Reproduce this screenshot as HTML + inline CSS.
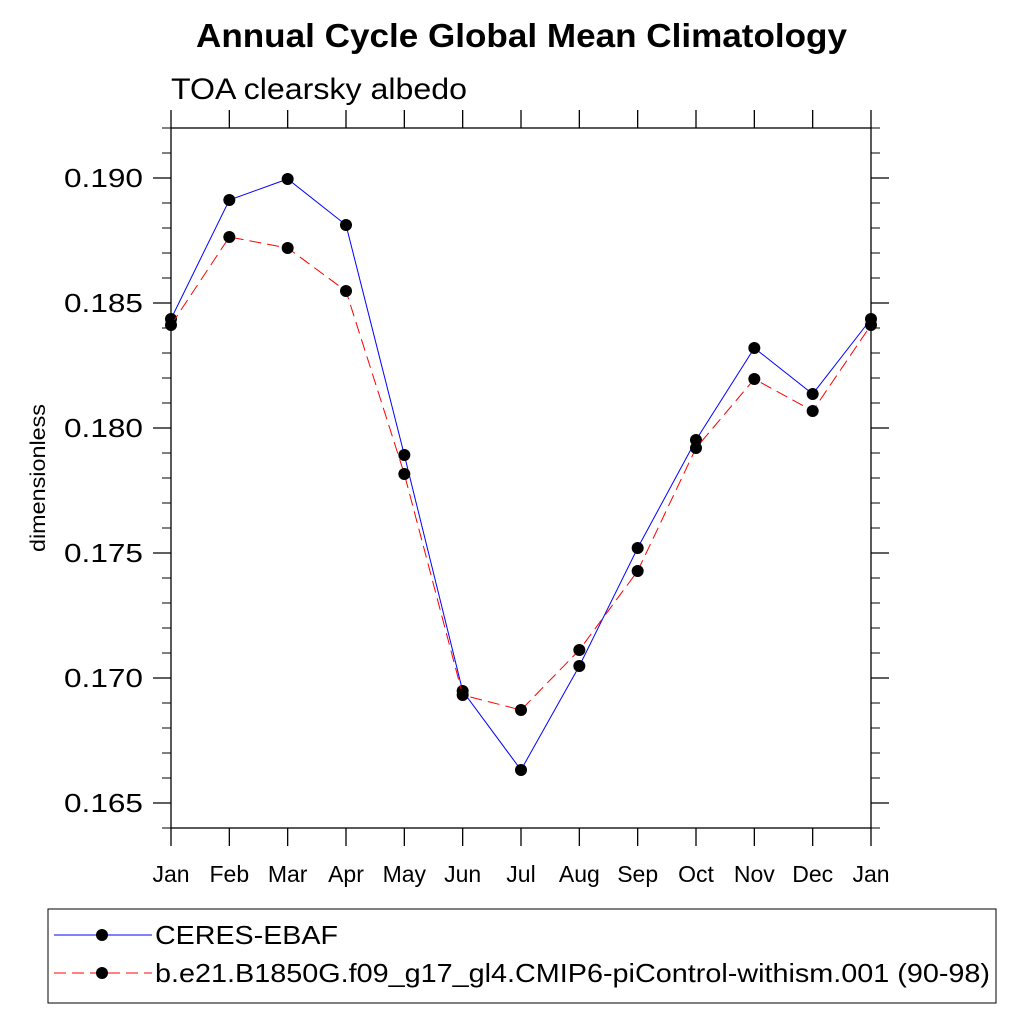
<!DOCTYPE html>
<html><head><meta charset="utf-8"><style>body{margin:0;background:#fff}svg{display:block;font-family:"Liberation Sans",sans-serif}</style></head>
<body>
<svg id="c" width="1024" height="1024" viewBox="0 0 1024 1024">
<text x="196" y="47" font-size="33" font-weight="bold" textLength="651" lengthAdjust="spacingAndGlyphs">Annual Cycle Global Mean Climatology</text>
<text x="171" y="99" font-size="30" textLength="296" lengthAdjust="spacingAndGlyphs">TOA clearsky albedo</text>
<text transform="translate(45,478) rotate(-90)" text-anchor="middle" font-size="21" textLength="148" lengthAdjust="spacingAndGlyphs">dimensionless</text>
<g id="axes"></g><g id="series"></g>
<rect x="48" y="909" width="948" height="94" fill="none" stroke="#000" stroke-width="1"/>
<g>
<line x1="54" y1="935" x2="152" y2="935" stroke="#00f" stroke-width="1"/><circle cx="102" cy="935" r="6"/>
<text x="155" y="944" font-size="26" textLength="183" lengthAdjust="spacingAndGlyphs">CERES-EBAF</text></g>
<g>
<line x1="54" y1="973" x2="152" y2="973" stroke="#f00" stroke-width="1" stroke-dasharray="12,6"/><circle cx="102" cy="973" r="6"/>
<text x="155" y="982" font-size="26" textLength="835" lengthAdjust="spacingAndGlyphs">b.e21.B1850G.f09_g17_gl4.CMIP6-piControl-withism.001 (90-98)</text></g>
</svg>
<script>
const months=["Jan","Feb","Mar","Apr","May","Jun","Jul","Aug","Sep","Oct","Nov","Dec","Jan"];
const ceres=[0.18436,0.18912,0.18996,0.18812,0.17892,0.16948,0.16632,0.17048,0.1752,0.17952,0.1832,0.18136,0.18436];
const model=[0.18412,0.18764,0.1872,0.18548,0.17816,0.16932,0.16872,0.17112,0.17428,0.1792,0.18196,0.18068,0.18412];
const yTicks=[0.165,0.170,0.175,0.180,0.185,0.190];
const yTickLabels=["0.165","0.170","0.175","0.180","0.185","0.190"];
const L=171,R=871,T=128,B=828,ymin=0.164,ymax=0.192;
const xs=i=>L+i*(R-L)/(months.length-1);
const ys=v=>B-(v-ymin)/(ymax-ymin)*(B-T);
const NS="http://www.w3.org/2000/svg";
function mk(t,a,p){const e=document.createElementNS(NS,t);for(const k in a)e.setAttribute(k,a[k]);p.appendChild(e);return e;}
const ax=document.getElementById('axes'),se=document.getElementById('series');
const fr=mk('rect',{x:L,y:T,width:R-L,height:B-T,fill:'none',stroke:'#000','stroke-width':1.3},ax);


months.forEach((m,i)=>{const x=xs(i);
mk('line',{x1:x,y1:B,x2:x,y2:B+18,stroke:'#000','stroke-width':1.3},ax);
mk('line',{x1:x,y1:T,x2:x,y2:T-18,stroke:'#000','stroke-width':1.3},ax);
const t=mk('text',{x:x,y:882,'text-anchor':'middle','font-size':23},ax);t.textContent=m;

});
for(let v=0.164;v<=0.19201;v+=0.001){const y=ys(v);
mk('line',{x1:L,y1:y,x2:L-9,y2:y,stroke:'#000','stroke-width':1},ax);
mk('line',{x1:R,y1:y,x2:R+9,y2:y,stroke:'#000','stroke-width':1},ax);}
yTicks.forEach((v,i)=>{const y=ys(v);
mk('line',{x1:L,y1:y,x2:L-18,y2:y,stroke:'#000','stroke-width':1.3},ax);
mk('line',{x1:R,y1:y,x2:R+18,y2:y,stroke:'#000','stroke-width':1.3},ax);
const t=mk('text',{x:64,y:y+9,'font-size':26,textLength:79,lengthAdjust:'spacingAndGlyphs'},ax);t.textContent=yTickLabels[i];

});
function series(d,col,dash,name){
const p=mk('polyline',{points:d.map((v,i)=>xs(i)+','+ys(v)).join(' '),fill:'none',stroke:col,'stroke-width':1,'stroke-dasharray':dash},se);


d.forEach((v,i)=>{const c=mk('circle',{cx:xs(i),cy:ys(v),r:6,fill:'#000'},se);

});}
series(ceres,'#00f','none','ceres');
series(model,'#f00','12,6','model');
</script>
</body></html>
